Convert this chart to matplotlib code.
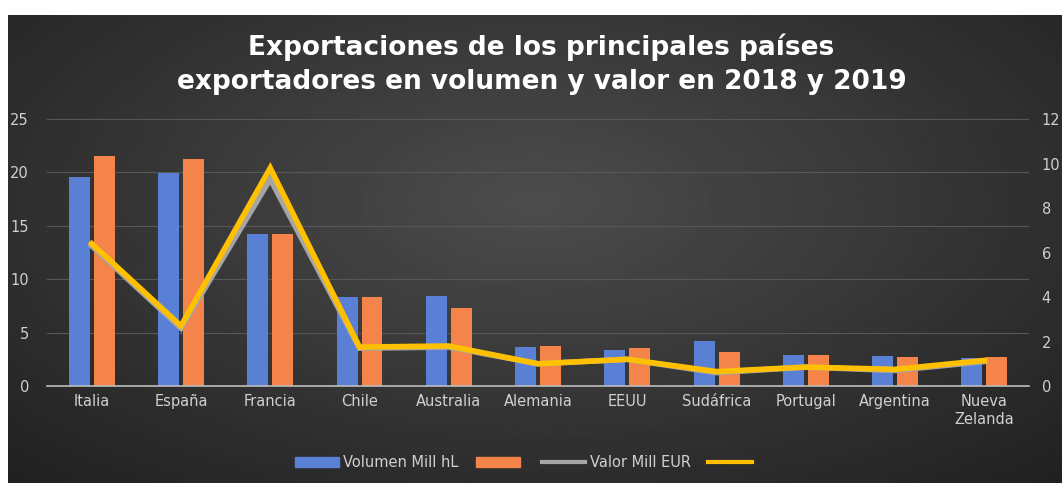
import matplotlib.pyplot as plt
import numpy as np
from matplotlib.patches import Patch
from matplotlib.lines import Line2D

paises = ["Italia", "España", "Francia", "Chile", "Australia", "Alemania",
          "EEUU", "Sudáfrica", "Portugal", "Argentina", "Nueva\nZelanda"]
vol_2018 = [19.6, 19.9, 14.2, 8.3, 8.4, 3.65, 3.4, 4.2, 2.9, 2.8, 2.6]
vol_2019 = [21.5, 21.3, 14.2, 8.3, 7.3, 3.75, 3.6, 3.2, 2.9, 2.7, 2.7]
valor_2018 = [6.3, 2.6, 9.3, 1.7, 1.75, 1.0, 1.2, 0.6, 0.85, 0.7, 1.1]
valor_2019 = [6.4, 2.7, 9.8, 1.75, 1.8, 1.0, 1.2, 0.65, 0.85, 0.75, 1.15]

fig = plt.figure(figsize=(10.62, 4.83), dpi=100)
fig.patch.set_facecolor("white")

# dark radial gradient background
bg = fig.add_axes([0.0075, 0, 0.9925, 0.969])
yy, xx = np.mgrid[-1:1:200j, -1:1:400j]
r = np.sqrt((xx * 0.9) ** 2 + ((yy + 0.2) * 0.8) ** 2)
bg.imshow(0.30 - 0.13 * np.clip(r, 0, 1.3), cmap="gray", vmin=0, vmax=1,
          aspect="auto", extent=[0, 1, 0, 1])
bg.axis("off")

ax = fig.add_axes([0.0443, 0.2008, 0.9247, 0.5528])
ax.patch.set_alpha(0)
x = np.arange(len(paises))
w = 0.235
ax.bar(x - 0.14, vol_2018, w, color="#5a80d6", zorder=2)
ax.bar(x + 0.14, vol_2019, w, color="#f5844a", zorder=2)
ax.set_ylim(0, 25)
ax.set_xlim(-0.5, len(paises) - 0.5)
ax.set_yticks(range(0, 26, 5))
ax.grid(axis="y", color="#575757", lw=0.8, zorder=0)
for s in ["top", "right", "left"]:
    ax.spines[s].set_visible(False)
ax.spines["bottom"].set_color("#bdbdbd")
ax.spines["bottom"].set_linewidth(1.2)
ax.set_xticks(x)
ax.set_xticklabels(paises)
ax.tick_params(length=0, colors="#d0d0d0", labelsize=10.5)
ax.tick_params(axis="y", pad=13)
ax.tick_params(axis="x", pad=6)

ax2 = ax.twinx()
ax2.plot(x, valor_2018, color="#a5a5a5", lw=4, zorder=3, solid_joinstyle="miter")
ax2.plot(x, valor_2019, color="#ffc000", lw=4, zorder=4, solid_joinstyle="miter")
ax2.set_ylim(0, 12)
ax2.set_yticks(range(0, 13, 2))
for s in ax2.spines.values():
    s.set_visible(False)
ax2.tick_params(length=0, colors="#d0d0d0", labelsize=10.5, pad=9)

fig.text(0.51, 0.867, "Exportaciones de los principales países\nexportadores en volumen y valor en 2018 y 2019",
         ha="center", va="center", color="white", fontsize=19, fontweight="bold",
         family="DejaVu Sans", linespacing=1.4)

handles = [Patch(color="#5a80d6"), Patch(color="#f5844a"),
           Line2D([], [], color="#a5a5a5", lw=3), Line2D([], [], color="#ffc000", lw=3)]
labels = ["Volumen Mill hL", "", "Valor Mill EUR", ""]
fig.legend(handles, labels, loc="center", bbox_to_anchor=(0.495, 0.043), ncol=4,
           frameon=False, labelcolor="#d0d0d0", fontsize=10.5, handlelength=3,
           columnspacing=1.2, handletextpad=0.3)

fig.savefig("out.png", dpi=100)
